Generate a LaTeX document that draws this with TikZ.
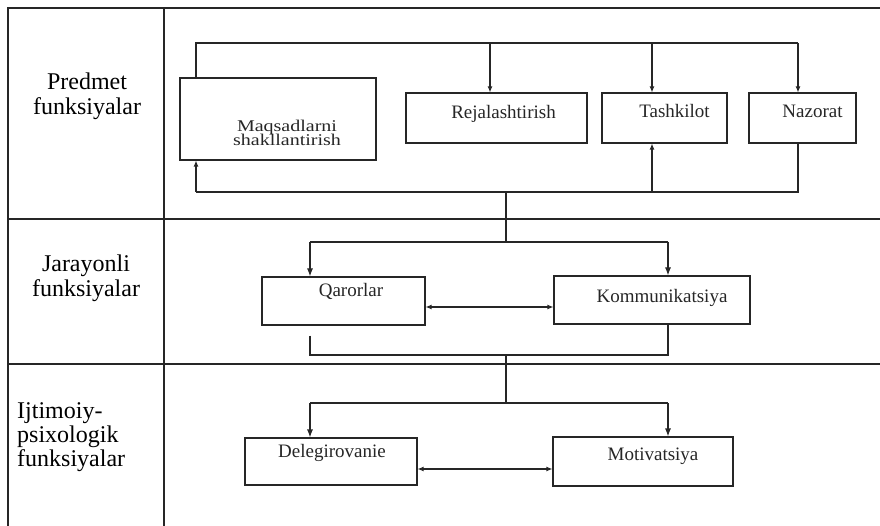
\documentclass[tikz,border=0pt]{standalone}
\usepackage{fontspec}
\setmainfont{Liberation Serif}
\usepackage{graphicx}
\usetikzlibrary{arrows.meta}
\tikzset{
  grid/.style={line width=1.1pt, black!85},
  fbox/.style={draw, line width=1.1pt, black!85, rectangle, inner sep=0pt,
    text height=0pt, text depth=0pt, font=\fontsize{19}{19}\selectfont},
  lab/.style={inner sep=0pt, anchor=base, font=\fontsize{24}{24}\selectfont},
  conn/.style={line width=1.1pt, black!85},
  arr/.style={conn, -{Latex[length=6pt,width=5pt]}},
  barr/.style={conn, -{Latex[length=8pt,width=6pt]}},
  darr/.style={conn, {Latex[length=6pt,width=5pt]}-{Latex[length=6pt,width=5pt]}},
}
\begin{document}
\begin{tikzpicture}[x=1pt,y=-1pt]
\useasboundingbox (0,0) rectangle (880,526);
% frame
\draw[grid] (8,526) -- (8,8) -- (880,8);
\draw[grid] (164,8) -- (164,526);
\draw[grid] (8,219) -- (880,219);
\draw[grid] (8,364) -- (880,364);
% row labels
\node[lab] (l1) at (87,90) {\begin{tabular}[t]{@{}c@{}}Predmet\\funksiyalar\end{tabular}};
\node[lab] (l2) at (86,272) {\begin{tabular}[t]{@{}c@{}}Jarayonli\\funksiyalar\end{tabular}};
\node[lab, anchor=base west] (l3) at (17,418) {\begin{tabular}[t]{@{}l@{}}Ijtimoiy-\\psixologik\\funksiyalar\end{tabular}};
% boxes
\node[fbox, minimum width=196pt, minimum height=82pt] (M) at (278,119)
  {\hspace*{18pt}\raisebox{-27pt}{\scalebox{1}[0.82]{\fontsize{20}{14}\selectfont\begin{tabular}[b]{@{}c@{}}Maqsadlarni\\shakllantirish\end{tabular}}}};
\node[fbox, minimum width=181pt, minimum height=50pt] (R) at (496.5,118) {\hspace*{14pt}\raisebox{-1pt}{Rejalashtirish}};
\node[fbox, minimum width=125pt, minimum height=50pt] (T) at (664.5,118) {\hspace*{20pt}\raisebox{0pt}{Tashkilot}};
\node[fbox, minimum width=107pt, minimum height=50pt] (N) at (802.5,118) {\hspace*{20pt}\raisebox{0pt}{Nazorat}};
\node[fbox, minimum width=163pt, minimum height=48pt] (Q) at (343.5,301) {\hspace*{15pt}\raisebox{4pt}{Qarorlar}};
\node[fbox, minimum width=196pt, minimum height=48pt] (K) at (652,300) {\hspace*{20pt}\raisebox{-2pt}{Kommunikatsiya}};
\node[fbox, minimum width=172pt, minimum height=47pt] (D) at (331,461.5) {\hspace*{2pt}\raisebox{4.5pt}{Delegirovanie}};
\node[fbox, minimum width=180pt, minimum height=49pt] (Mo) at (643,461.5) {\hspace*{20pt}\raisebox{1.5pt}{Motivatsiya}};
% top bus
\coordinate (tbL) at (196,43);
\coordinate (tbR) at (798,43);
\draw[conn] (M.north -| tbL) -- (tbL) -- (tbR);
\draw[arr] (tbR) -- (N.north -| tbR);
\draw[arr] ([xshift=-6.5pt]R.north |- tbL) -- ([xshift=-6.5pt]R.north);
\draw[arr] ([xshift=-12.5pt]T.north |- tbL) -- ([xshift=-12.5pt]T.north);
% bottom bus of row 1
\coordinate (bbL) at (196,192);
\coordinate (bbR) at (798,192);
\draw[conn] (N.south -| bbR) -- (bbR) -- (bbL);
\draw[arr] (bbL) -- (M.south -| bbL);
\draw[arr] ([xshift=-12.5pt]T.south |- bbL) -- ([xshift=-12.5pt]T.south);
% link to row 2
\coordinate (j1) at (506,192);
\coordinate (j2) at (506,242);
\draw[conn] (j1) -- (j2);
\coordinate (q2L) at (310,242);
\coordinate (q2R) at (668,242);
\draw[conn] (q2L) -- (q2R);
\draw[barr] (q2L) -- (Q.north -| q2L);
\draw[barr] (q2R) -- (K.north -| q2R);
\draw[darr] ([yshift=-6pt]Q.east) -- ([yshift=-6pt]Q.east -| K.west);
% bottom of row 2
\coordinate (b2L) at (310,355);
\coordinate (b2R) at (668,355);
\draw[conn] ([yshift=-10pt]Q.south -| b2L) -- (b2L) -- (b2R) -- (K.south -| b2R);
\coordinate (j3) at (506,355);
\coordinate (j4) at (506,403);
\draw[conn] (j3) -- (j4);
\coordinate (r3L) at (310,403);
\coordinate (r3R) at (668,403);
\draw[conn] (r3L) -- (r3R);
\draw[barr] (r3L) -- (D.north -| r3L);
\draw[barr] (r3R) -- (Mo.north -| r3R);
\draw[darr] ([yshift=-7.5pt]D.east) -- ([yshift=-7.5pt]D.east -| Mo.west);
\end{tikzpicture}
\end{document}
